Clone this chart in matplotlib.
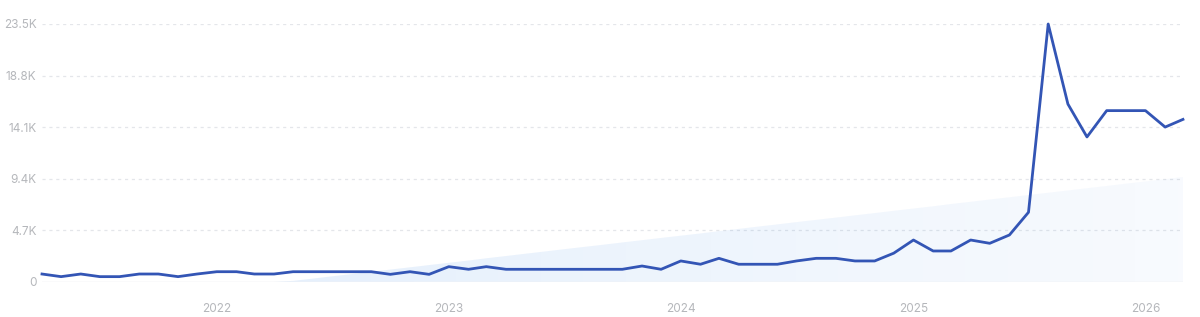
import numpy as np
import pandas as pd
import matplotlib
matplotlib.use("Agg")
import matplotlib.pyplot as plt
import matplotlib.dates as mdates
from matplotlib.ticker import FixedLocator

# ---- data (thousands) ----
start_month = "2021-04-01"
values_k = [
    0.70, 0.46, 0.70, 0.46, 0.46, 0.70, 0.70, 0.46, 0.70,            # Apr-Dec 2021
    0.91, 0.91, 0.70, 0.70, 0.91, 0.91, 0.91, 0.91, 0.91, 0.67, 0.91, 0.67,  # 2022
    1.37, 1.13, 1.37, 1.13, 1.13, 1.13, 1.13, 1.13, 1.13, 1.13, 1.43, 1.13,  # 2023
    1.89, 1.59, 2.13, 1.59, 1.59, 1.59, 1.89, 2.13, 2.13, 1.89, 1.89, 2.60,  # 2024
    3.80, 2.80, 2.80, 3.80, 3.50, 4.26, 6.33, 23.50, 16.20, 13.20, 15.60, 15.60,  # 2025
    15.60, 14.10, 14.80,                                               # 2026
]
y_ticks_k = [0, 4.7, 9.4, 14.1, 18.8, 23.5]
y_tick_labels = ["0", "4.7K", "9.4K", "14.1K", "18.8K", "23.5K"]

dates = pd.date_range(start_month, periods=len(values_k), freq="MS")
vals = np.array(values_k)
xnum = mdates.date2num(dates)

# linear trend of the series
idx = np.arange(len(vals))
slope, intercept = np.polyfit(idx, vals, 1)
trend = np.clip(intercept + slope * idx, 0, None)

plt.rcParams["font.family"] = ["Inter", "DejaVu Sans"]

fig = plt.figure(figsize=(12, 3.17), dpi=100)
ax = fig.add_axes([0.035, 0.1114, 0.9508, 0.8129])

ax.set_xlim(xnum[0], xnum[-1])
ax.set_ylim(0, 23.5)

# gradient trend fill
poly = ax.fill_between(xnum, 0, trend, color="none", lw=0)
grad = np.zeros((2, 256, 4))
grad[..., 0] = 0.15
grad[..., 1] = 0.50
grad[..., 2] = 0.90
grad[..., 3] = np.linspace(0.14, 0.035, 256)[None, :]
im = ax.imshow(grad, extent=[xnum[0], xnum[-1], 0, 23.5], aspect="auto",
               origin="lower", zorder=1, interpolation="bicubic")
path = poly.get_paths()[0]
im.set_clip_path(path, transform=ax.transData)

# grid
for yt in y_ticks_k[1:]:
    ax.axhline(yt, color="#e4e6ea", lw=0.9, ls=(0, (2.5, 3)), zorder=0.5)
ax.axhline(0, color="#e6e8ec", lw=1.0, zorder=0.6)

ax.plot(xnum, vals, color="#3355b5", lw=2.0, zorder=3, clip_on=False,
        solid_joinstyle="round")

for s in ax.spines.values():
    s.set_visible(False)

ax.yaxis.set_major_locator(FixedLocator(y_ticks_k))
ax.set_yticklabels(y_tick_labels)
ax.xaxis.set_major_locator(mdates.YearLocator())
ax.xaxis.set_major_formatter(mdates.DateFormatter("%Y"))
ax.tick_params(axis="both", length=0, labelsize=8.5, labelcolor="#b5b7bb")
ax.tick_params(axis="x", pad=15)
ax.tick_params(axis="y", pad=4)

fig.savefig("out.png", dpi=100, facecolor="white")
